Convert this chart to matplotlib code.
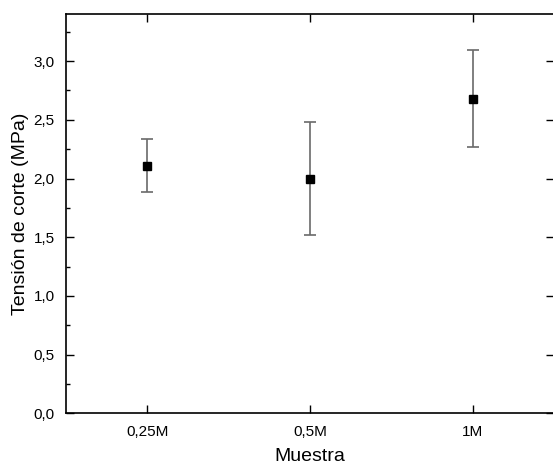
import numpy as np
import matplotlib.pyplot as plt
from matplotlib.ticker import MultipleLocator, FuncFormatter

plt.rcParams['font.family'] = ['Liberation Sans', 'DejaVu Sans']

# data
samples = ['0,25M', '0,5M', '1M']
tension = [2.11, 2.00, 2.68]
tension_err = [0.225, 0.48, 0.41]

fig = plt.figure(figsize=(5.53, 4.68), dpi=100)
ax = fig.add_axes([0.1188, 0.1165, 0.8830, 0.8535])

x = np.arange(len(samples))
ax.errorbar(x, tension, yerr=tension_err, fmt='s', color='black',
            markersize=6, ecolor='#6a6a6a', elinewidth=1.2,
            capsize=4, capthick=1.2)

ax.set_xlim(-0.5, 2.5)
ax.set_ylim(0, 3.4)
ax.set_xticks(x)
ax.set_xticklabels(samples)
ax.yaxis.set_major_locator(MultipleLocator(0.5))
ax.yaxis.set_minor_locator(MultipleLocator(0.25))
ax.yaxis.set_major_formatter(FuncFormatter(lambda v, p: f'{v:.1f}'.replace('.', ',')))

ax.tick_params(axis='both', which='major', direction='in', length=6, width=1,
               labelsize=11, top=True, right=True, pad=8)
ax.tick_params(axis='y', which='minor', direction='in', length=3, width=1,
               left=True, right=False)
for s in ax.spines.values():
    s.set_linewidth(1.2)

ax.set_xlabel('Muestra', fontsize=14, labelpad=7)
ax.set_ylabel('Tensión de corte (MPa)', fontsize=14, labelpad=3)

fig.savefig('out.png', dpi=100)
